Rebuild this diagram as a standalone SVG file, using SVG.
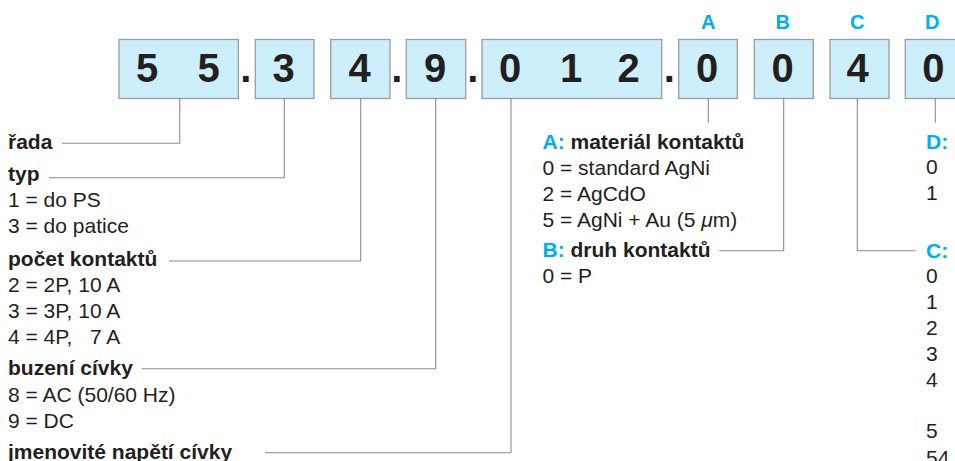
<svg xmlns="http://www.w3.org/2000/svg" width="955" height="461" viewBox="0 0 955 461">
<style>
.box{fill:#cdeefb;stroke:#9c9c9c;stroke-width:1.3}
.dig{font-family:"Liberation Sans",Arial,sans-serif;font-weight:bold;font-size:40px;fill:#231f20;text-anchor:middle}
.lab{font-family:"Liberation Sans",Arial,sans-serif;font-weight:bold;font-size:20px;fill:#00aeef;text-anchor:middle}
.t{font-family:"Liberation Sans",Arial,sans-serif;font-size:21px;fill:#231f20}
.b{font-weight:bold}
.bl{fill:#00aeef}
.ln{fill:none;stroke:#8c8c8c;stroke-width:1.1}
</style>
<rect width="955" height="461" fill="#ffffff"/>
<g id="code">
  <g id="box-series"><rect class="box" x="119" y="39.5" width="119.3" height="59"/><text class="dig" x="147" y="82">5</text><text class="dig" x="208.7" y="82">5</text></g>
  <text class="dig" x="245.7" y="82">.</text>
  <g id="box-type"><rect class="box" x="255.3" y="39.5" width="58.7" height="59"/><text class="dig" x="283.5" y="82">3</text></g>
  <g id="box-contacts"><rect class="box" x="330.7" y="39.5" width="59.3" height="59"/><text class="dig" x="359.5" y="82">4</text></g>
  <text class="dig" x="396.7" y="82">.</text>
  <g id="box-coil"><rect class="box" x="406.3" y="39.5" width="59.4" height="59"/><text class="dig" x="435" y="82">9</text></g>
  <text class="dig" x="472.7" y="82">.</text>
  <g id="box-voltage"><rect class="box" x="482" y="39.5" width="179.7" height="59"/><text class="dig" x="510" y="82">0</text><text class="dig" x="571" y="82">1</text><text class="dig" x="628.5" y="82">2</text></g>
  <text class="dig" x="669.3" y="82">.</text>
  <g id="box-A"><rect class="box" x="678.7" y="39.5" width="58.6" height="59"/><text class="dig" x="707" y="82">0</text><text class="lab" x="708.3" y="29.3">A</text></g>
  <g id="box-B"><rect class="box" x="754.3" y="39.5" width="59" height="59"/><text class="dig" x="782.5" y="82">0</text><text class="lab" x="782.7" y="29.3">B</text></g>
  <g id="box-C"><rect class="box" x="830" y="39.5" width="59" height="59"/><text class="dig" x="857.7" y="82">4</text><text class="lab" x="857.3" y="29.3">C</text></g>
  <g id="box-D"><rect class="box" x="905.3" y="39.5" width="59" height="59"/><text class="dig" x="933.3" y="82">0</text><text class="lab" x="932.3" y="29.3">D</text></g>
</g>
<g id="connectors">
  <polyline class="ln" points="179.8,98.5 179.8,143.3 62,143.3"/>
  <polyline class="ln" points="284.3,98.5 284.3,177.8 49,177.8"/>
  <polyline class="ln" points="360.7,98.5 360.7,261 169,261"/>
  <polyline class="ln" points="435.7,98.5 435.7,368.7 141.7,368.7"/>
  <polyline class="ln" points="511,98.5 511,452.7 265,452.7"/>
  <line class="ln" x1="708.3" y1="98.5" x2="708.3" y2="122.7"/>
  <polyline class="ln" points="783.7,98.5 783.7,250.7 719.3,250.7"/>
  <polyline class="ln" points="857.3,98.5 857.3,250.7 915.7,250.7"/>
  <line class="ln" x1="935.3" y1="98.5" x2="935.3" y2="122.7"/>
</g>
<g id="legend-left">
  <text class="t b" x="8" y="148.5">řada</text>
  <text class="t b" x="8" y="181">typ</text>
  <text class="t" x="8" y="206.7">1 = do PS</text>
  <text class="t" x="8" y="233.3">3 = do patice</text>
  <text class="t b" x="8" y="266">počet kontaktů</text>
  <text class="t" x="8" y="291.7">2 = 2P, 10 A</text>
  <text class="t" x="8" y="318">3 = 3P, 10 A</text>
  <text class="t" x="8" y="344" xml:space="preserve">4 = 4P,   7 A</text>
  <text class="t b" x="8" y="375">buzení cívky</text>
  <text class="t" x="8" y="401.7">8 = AC (50/60 Hz)</text>
  <text class="t" x="8" y="427.7">9 = DC</text>
  <text class="t b" x="8" y="459">jmenovité napětí cívky</text>
</g>
<g id="legend-mid">
  <text class="t b" x="542.5" y="149"><tspan class="bl">A:</tspan> materiál kontaktů</text>
  <text class="t" x="542.5" y="175">0 = standard AgNi</text>
  <text class="t" x="542.5" y="201">2 = AgCdO</text>
  <text class="t" x="542.5" y="226.7">5 = AgNi + Au (5 <tspan font-style="italic">μ</tspan>m)</text>
  <text class="t b" x="542.5" y="256.7"><tspan class="bl">B:</tspan> druh kontaktů</text>
  <text class="t" x="542.5" y="282.5">0 = P</text>
</g>
<g id="legend-right">
  <text class="t b" x="926" y="148.5"><tspan class="bl">D:</tspan> p</text>
  <text class="t" x="926" y="173.7">0</text>
  <text class="t" x="926" y="200">1</text>
  <text class="t b" x="926" y="258"><tspan class="bl">C:</tspan> p</text>
  <text class="t" x="926" y="283.3">0</text>
  <text class="t" x="926" y="309.3">1</text>
  <text class="t" x="926" y="335">2</text>
  <text class="t" x="926" y="360.7">3</text>
  <text class="t" x="926" y="386.7">4</text>
  <text class="t" x="926" y="438.3">5</text>
  <text class="t" x="926" y="464.5">54</text>
</g>
</svg>
